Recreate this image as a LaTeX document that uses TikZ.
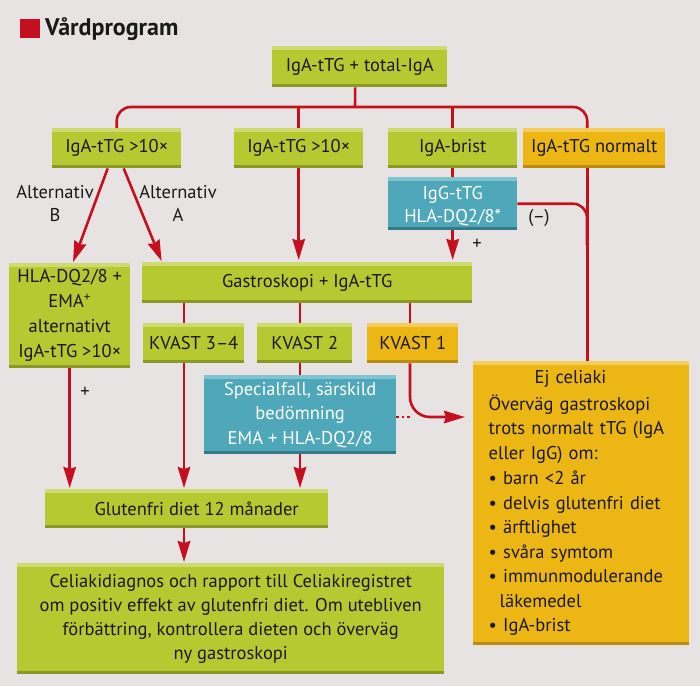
\documentclass[tikz,border=0pt]{standalone}
\usepackage{fontspec}
\setmainfont{PT Sans}
\newfontfamily\bodyfont{PT Sans}
\usetikzlibrary{arrows.meta}
\definecolor{bg}{RGB}{232,227,227}
\definecolor{grn}{RGB}{183,201,49}
\definecolor{grnT}{RGB}{206,219,112}
\definecolor{grnB}{RGB}{138,153,38}
\definecolor{org}{RGB}{236,182,20}
\definecolor{orgT}{RGB}{243,206,92}
\definecolor{orgB}{RGB}{188,140,18}
\definecolor{teal}{RGB}{78,168,185}
\definecolor{tealT}{RGB}{128,196,209}
\definecolor{tealB}{RGB}{52,122,138}
\definecolor{lred}{RGB}{196,16,30}
\definecolor{txt}{RGB}{25,25,25}
\tikzset{
  box/.style={rectangle, inner sep=0pt, anchor=north west, align=center, text=txt,
    font={\bodyfont\fontsize{18.5pt}{24.5pt}\selectfont}},
  strips/.style n args={2}{path picture={
    \fill[#1] (path picture bounding box.north west) rectangle ([yshift=-3.5pt]path picture bounding box.north east);
    \fill[#2] ([yshift=3.5pt]path picture bounding box.south west) rectangle (path picture bounding box.south east);}},
  gbox/.style={box, fill=grn, strips={grnT}{grnB}},
  obox/.style={box, fill=org, strips={orgT}{orgB}},
  tbox/.style={box, fill=teal, text=white, strips={tealT}{tealB}},
  rl/.style={draw=lred, line width=2.6pt},
  arr/.style={rl, -{Stealth[length=21pt,width=12.5pt,inset=2pt]}},
  lbl/.style={align=center, text=txt, inner sep=0pt, font={\bodyfont\fontsize{18.5pt}{23pt}\selectfont}},
}
\begin{document}
\begin{tikzpicture}[x=1pt,y=-1pt]
\useasboundingbox (0,0) rectangle (700,686);
\fill[bg] (0,0) rectangle (700,686);
% title
\fill[lred] (20,19) rectangle (40,38);
\node[anchor=west, inner sep=0pt, text=txt, font={\bodyfont\fontsize{24pt}{26pt}\selectfont\bfseries}] (title) at (45,29) {Vårdprogram};
% boxes
\node[gbox, minimum width=175pt, minimum height=41pt] (top) at (272,46) {IgA-tTG + total-IgA};
\node[gbox, minimum width=129pt, minimum height=40pt] (a1) at (52,128) {IgA-tTG >10×};
\node[gbox, minimum width=129pt, minimum height=40pt] (a2) at (234,128) {IgA-tTG >10×};
\node[gbox, minimum width=129pt, minimum height=40pt] (a3) at (388,128) {IgA-brist};
\node[obox, minimum width=142pt, minimum height=40pt] (a4) at (523,128) {IgA-tTG normalt};
\node[tbox, minimum width=129pt, minimum height=53pt, font={\bodyfont\fontsize{18.5pt}{23pt}\selectfont}] (igg) at (388,177) {\rule{0pt}{17pt}IgG-tTG\\HLA-DQ2/8*};
\node[gbox, minimum width=121pt, minimum height=105pt, font={\bodyfont\fontsize{18.5pt}{25pt}\selectfont}] (hla) at (9,263) {HLA-DQ2/8 +\\EMA\textsuperscript{+}\\alternativt\\IgA-tTG >10×};
\node[gbox, minimum width=330pt, minimum height=41pt] (gas) at (142,262) {Gastroskopi + IgA-tTG};
\node[gbox, minimum width=101pt, minimum height=40pt] (k34) at (143,323) {KVAST 3–4};
\node[gbox, minimum width=95pt, minimum height=40pt] (k2) at (257,323) {KVAST 2};
\node[obox, minimum width=91pt, minimum height=40pt] (k1) at (367,323) {KVAST 1};
\node[tbox, minimum width=192pt, minimum height=79pt] (spec) at (204,375) {Specialfall, särskild\\bedömning\\EMA + HLA-DQ2/8};
\node[obox, minimum width=216pt, minimum height=284pt, align=left, text width=185pt, inner xsep=15.5pt] (ej) at (473,361)
  {\hspace*{46pt}Ej celiaki\\[2pt]
   Överväg gastroskopi\\
   trots normalt tTG (IgA\\
   eller IgG) om:\\[1pt]
   • barn <2 år\\
   • delvis glutenfri diet\\
   • ärftlighet\\
   • svåra symtom\\
   • immunmodulerande\\
   \hspace*{11pt}läkemedel\\
   • IgA-brist};
\node[gbox, minimum width=283pt, minimum height=39pt] (glu) at (45,489) {\hspace*{20pt}Glutenfri diet 12 månader};
\node[gbox, minimum width=427pt, minimum height=111pt, font={\bodyfont\fontsize{18.5pt}{24pt}\selectfont}] (cel) at (17,563)
  {Celiakidiagnos och rapport till Celiakiregistret\\om positiv effekt av glutenfri diet. Om utebliven\\förbättring, kontrollera dieten och överväg\\ny gastroskopi};
% labels
\node[lbl] (lb) at (55,203) {Alternativ\\B};
\node[lbl] (la) at (178,203) {Alternativ\\A};
\node[lbl] (p1) at (477,244) {+};
\node[lbl] (p2) at (85,392) {+};
\node[lbl] (neg) at (539,218) {(–)};
% coordinates
\coordinate (bus) at (355,107);
\coordinate (cA) at (184,0);
\coordinate (cB) at (300,0);
\coordinate (cC) at (410,0);
\coordinate (ky) at (0,417);
\coordinate (jn) at (587,245);
% connectors
\draw[rl] ([xshift=-4.5pt]top.south) -- (bus);
\draw[rl, rounded corners=14pt] (a1.north) |- (bus) -| ([xshift=-7pt]a4.north);
\draw[rl] (a2.north |- bus) -- (a2.north);
\draw[rl] (a3.north |- bus) -- (a3.north);
\draw[rl] (a3.south) -- (igg.north);
\draw[rl] ([xshift=-7pt]a4.south) -- ([xshift=-7pt]a4.south |- ej.north);
\draw[rl, rounded corners=14pt] (igg.east) -| (jn);
\draw[arr, shorten >=2pt] (igg.south) -- (igg.south |- gas.north);
\draw[arr, shorten >=1pt] ([xshift=-9pt]a1.south) -- ([xshift=3pt]hla.north);
\draw[arr, shorten >=1pt] ([xshift=7pt]a1.south) -- ([xshift=20pt]gas.north west);
\draw[arr, shorten >=2pt] (a2.south) -- (a2.south |- gas.north);
\draw[rl] (cA |- gas.south) -- (cA |- k34.north);
\draw[rl] (cB |- gas.south) -- (cB |- k2.north);
\draw[rl] (cC |- gas.south) -- (cC |- k1.north);
\draw[arr, shorten >=1pt] (cA |- k34.south) -- (cA |- glu.north);
\draw[arr, shorten >=1pt] (hla.south) -- (hla.south |- glu.north);
\draw[rl] (cB |- k2.south) -- (cB |- spec.north);
\draw[arr, shorten >=1pt] (cB |- spec.south) -- (cB |- glu.north);
\draw[lred, line width=2.6pt, dash pattern=on 2.5pt off 3pt] (spec.east |- ky) -- (cC |- ky);
\draw[arr, rounded corners=20pt, shorten >=8pt] (cC |- k1.south) |- (ej.west |- ky);
\draw[arr, shorten >=1pt] (cA |- glu.south) -- (cA |- cel.north);
\end{tikzpicture}
\end{document}
